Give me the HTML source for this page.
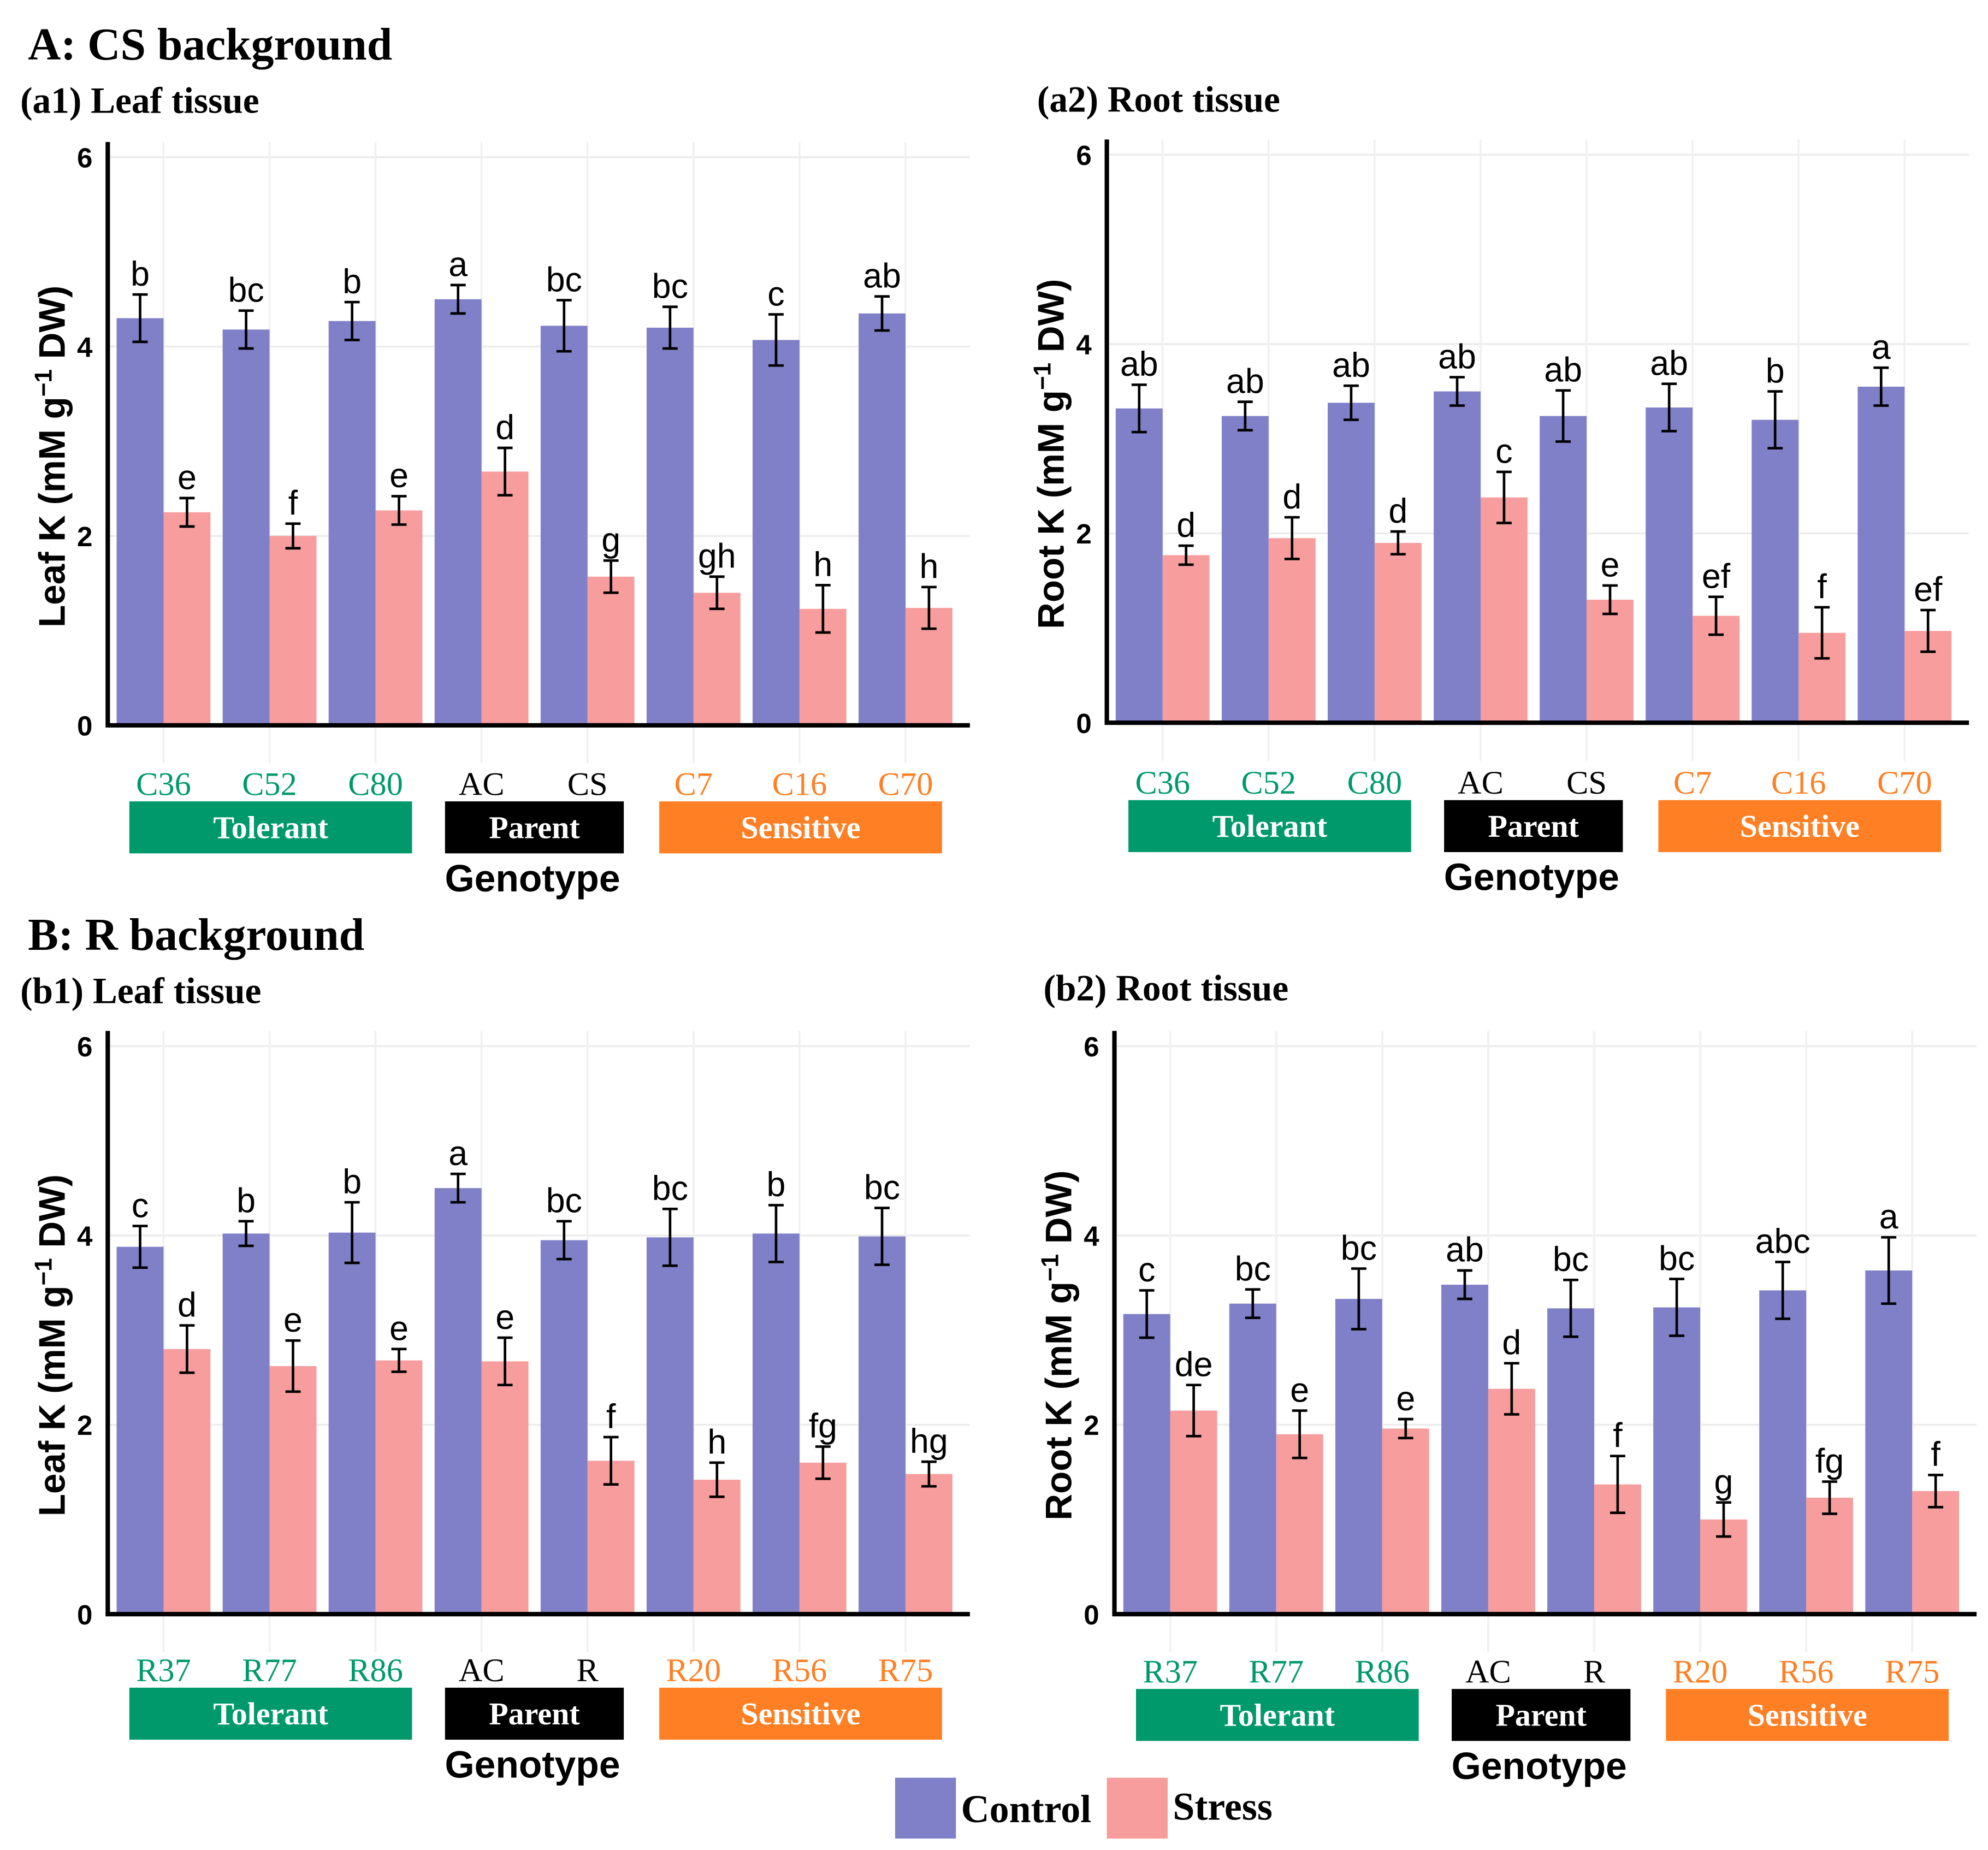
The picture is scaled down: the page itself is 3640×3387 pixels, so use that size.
<!DOCTYPE html>
<html><head><meta charset="utf-8">
<style>
html,body{margin:0;padding:0;background:#fff;}
svg{display:block;width:3640px;height:3387px;}
.serif{font-family:"Liberation Serif",serif;}
.sans{font-family:"Liberation Sans",sans-serif;}
</style></head>
<body>
<svg id="fig" viewBox="0 0 1568 1459" xmlns="http://www.w3.org/2000/svg">
<text x="22" y="47" class="serif" font-weight="bold" font-size="36">A: CS background</text>
<text x="16" y="89" class="serif" font-weight="bold" font-size="29">(a1) Leaf tissue</text>
<text x="818" y="88" class="serif" font-weight="bold" font-size="29">(a2) Root tissue</text>
<text x="22" y="749" class="serif" font-weight="bold" font-size="36">B: R background</text>
<text x="16" y="791" class="serif" font-weight="bold" font-size="29">(b1) Leaf tissue</text>
<text x="823" y="789" class="serif" font-weight="bold" font-size="29">(b2) Root tissue</text>
<rect x="706" y="1402" width="48" height="48" fill="#8080c8"/>
<text x="758" y="1437" class="serif" font-weight="bold" font-size="31">Control</text>
<rect x="873" y="1402" width="48" height="48" fill="#f79d9d"/>
<text x="925" y="1435" class="serif" font-weight="bold" font-size="31">Stress</text>
</svg>
<script>
const catsA = ["C36","C52","C80","AC","CS","C7","C16","C70"];
const catsB = ["R37","R77","R86","AC","R","R20","R56","R75"];
const yTicks = [0,2,4,6];
const a1Control = [4.30,4.18,4.27,4.50,4.22,4.20,4.07,4.35];
const a1ControlErr = [0.25,0.20,0.20,0.15,0.27,0.22,0.27,0.18];
const a1Stress = [2.25,2.00,2.27,2.68,1.57,1.40,1.23,1.24];
const a1StressErr = [0.15,0.13,0.15,0.25,0.17,0.17,0.25,0.22];
const a1ControlLetters = ["b","bc","b","a","bc","bc","c","ab"];
const a1StressLetters = ["e","f","e","d","g","gh","h","h"];
const a2Control = [3.32,3.24,3.38,3.50,3.24,3.33,3.20,3.55];
const a2ControlErr = [0.25,0.15,0.18,0.15,0.27,0.25,0.30,0.20];
const a2Stress = [1.77,1.95,1.90,2.38,1.30,1.13,0.95,0.97];
const a2StressErr = [0.10,0.22,0.12,0.27,0.15,0.20,0.27,0.22];
const a2ControlLetters = ["ab","ab","ab","ab","ab","ab","b","a"];
const a2StressLetters = ["d","d","d","c","e","ef","f","ef"];
const b1Control = [3.88,4.02,4.03,4.50,3.95,3.98,4.02,3.99];
const b1ControlErr = [0.22,0.13,0.32,0.15,0.20,0.30,0.30,0.30];
const b1Stress = [2.80,2.62,2.68,2.67,1.62,1.42,1.60,1.48];
const b1StressErr = [0.25,0.27,0.12,0.25,0.25,0.18,0.17,0.13];
const b1ControlLetters = ["c","b","b","a","bc","bc","b","bc"];
const b1StressLetters = ["d","e","e","e","f","h","fg","hg"];
const b2Control = [3.17,3.28,3.33,3.48,3.23,3.24,3.42,3.63];
const b2ControlErr = [0.25,0.15,0.32,0.15,0.30,0.30,0.30,0.35];
const b2Stress = [2.15,1.90,1.96,2.38,1.37,1.00,1.23,1.30];
const b2StressErr = [0.27,0.25,0.10,0.27,0.30,0.18,0.17,0.17];
const b2ControlLetters = ["c","bc","bc","ab","bc","bc","abc","a"];
const b2StressLetters = ["de","e","e","d","f","g","fg","f"];

const NS = "http://www.w3.org/2000/svg";
const svg = document.getElementById("fig");
function mk(tag, attrs, parent) {
  const e = document.createElementNS(NS, tag);
  for (const k in attrs) e.setAttribute(k, attrs[k]);
  (parent || svg).appendChild(e);
  return e;
}
const CTRL = "#8080c8", STR = "#f79d9d", GREEN = "#00996b", ORANGE = "#ff7f24";
const catColors = [GREEN,GREEN,GREEN,"#000","#000",ORANGE,ORANGE,ORANGE];

function panel(id, ox, y0, cats, ctrl, ctrlE, st, stE, cl, sl, ytitle, labelY) {
  const g = mk("g", {});
  
  
  const yS = v => y0 - v * 448 / 6;
  const gw = 83.6;
  const xC = i => ox + 7 + i * gw + 18.5;
  const xS = i => xC(i) + 37;
  const right = ox + 680;
  yTicks.forEach(t => {
    const l = mk("line", {x1: ox, x2: right, y1: yS(t), y2: yS(t), stroke: "#ececec", "stroke-width": 1.5}, g);
    
    
    const tx = mk("text", {x: ox - 12, y: yS(t) + 8, "text-anchor": "end", "font-size": 22, "font-weight": "bold", class: "sans"}, g);
    tx.textContent = t;
    
    
  });
  cats.forEach((c, i) => {
    const cx = xC(i) + 18.5;
    const l = mk("line", {x1: cx, x2: cx, y1: y0 - 460, y2: y0 + 30, stroke: "#f0f0f0", "stroke-width": 1.5}, g);
    
    
  });
  cats.forEach((c, i) => {
    const bc = mk("rect", {x: xC(i) - 18.5, y: yS(ctrl[i]), width: 37, height: yS(0) - yS(ctrl[i]), fill: CTRL}, g);
    
    
    const bs = mk("rect", {x: xS(i) - 18.5, y: yS(st[i]), width: 37, height: yS(0) - yS(st[i]), fill: STR}, g);
    
    
    [[xC(i), ctrl[i], ctrlE[i], cl[i]], [xS(i), st[i], stE[i], sl[i]]].forEach(([x, v, e, lt]) => {
      const top = yS(v + e), bot = yS(v - e);
      const eb = mk("path", {d: `M${x},${top}V${bot}M${x-6},${top}H${x+6}M${x-6},${bot}H${x+6}`, stroke: "#000", "stroke-width": 2, fill: "none"}, g);
      
      
      const lx = mk("text", {x: x, y: top - 7, "text-anchor": "middle", "font-size": 27, class: "sans"}, g);
      lx.textContent = lt;
      
      
    });
    const ct = mk("text", {x: xC(i) + 18.5, y: labelY, "text-anchor": "middle", "font-size": 26, class: "serif", fill: catColors[i]}, g);
    ct.textContent = c;
    
    
  });
  const ax = mk("path", {d: `M${ox},${y0 - 460}V${y0}H${right}`, stroke: "#000", "stroke-width": 3.5, fill: "none"}, g);
  
  
  const groups = [["Tolerant", GREEN, 17, 240], ["Parent", "#000", 266, 407], ["Sensitive", ORANGE, 435, 658]];
  groups.forEach(([name, col, a, b]) => {
    const bx = ox + a, w = b - a;
    const r = mk("rect", {x: bx, y: labelY + 5, width: w, height: 41, fill: col}, g);
    
    
    const t = mk("text", {x: bx + w / 2, y: labelY + 34, "text-anchor": "middle", "font-size": 25, "font-weight": "bold", fill: "#fff", class: "serif"}, g);
    t.textContent = name;
    
    
  });
  const gt = mk("text", {x: ox + 335, y: labelY + 76, "text-anchor": "middle", "font-size": 30, "font-weight": "bold", class: "sans"}, g);
  gt.textContent = "Genotype";
  
  
  const cy = y0 - 212;
  const yt = mk("text", {x: 0, y: 0, transform: `translate(${ox - 34},${cy}) rotate(-90)`, "text-anchor": "middle", "font-size": 29, "font-weight": "bold", class: "sans"}, g);
  yt.innerHTML = ytitle + ' (mM g<tspan baseline-shift="super" font-size="19">−1</tspan> DW)';
  
  
}
panel("a1", 85, 572, catsA, a1Control, a1ControlErr, a1Stress, a1StressErr, a1ControlLetters, a1StressLetters, "Leaf K", 627);
panel("a2", 873, 570, catsA, a2Control, a2ControlErr, a2Stress, a2StressErr, a2ControlLetters, a2StressLetters, "Root K", 626);
panel("b1", 85, 1273, catsB, b1Control, b1ControlErr, b1Stress, b1StressErr, b1ControlLetters, b1StressLetters, "Leaf K", 1326);
panel("b2", 879, 1273, catsB, b2Control, b2ControlErr, b2Stress, b2StressErr, b2ControlLetters, b2StressLetters, "Root K", 1327);
</script>
</body></html>
